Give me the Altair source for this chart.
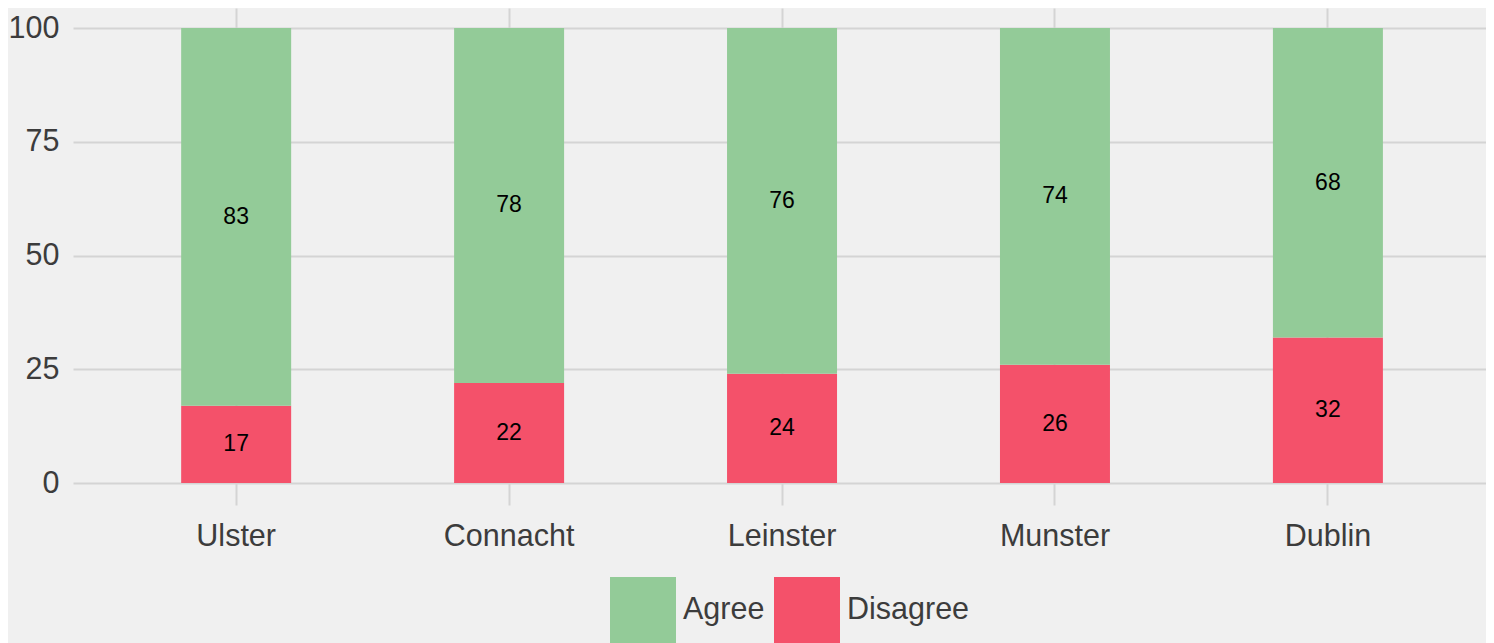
import altair as alt
import pandas as pd

regions = ["Ulster", "Connacht", "Leinster", "Munster", "Dublin"]
agree = [83, 78, 76, 74, 68]
disagree = [17, 22, 24, 26, 32]
series = ["Agree", "Disagree"]
colors = ["#93CB98", "#F4516A"]
y_ticks = [0, 25, 50, 75, 100]

rows = []
for r, a, d in zip(regions, agree, disagree):
    rows.append({"region": r, "answer": "Disagree", "value": d, "ord": 0})
    rows.append({"region": r, "answer": "Agree", "value": a, "ord": 1})
df = pd.DataFrame(rows)

FONT = "Liberation Sans"
FS = 30.5

base = alt.Chart(df).transform_stack(
    stack="value", groupby=["region"], as_=["y0", "y1"],
    sort=[alt.SortField("ord", order="ascending")]
).transform_calculate(mid="(datum.y0 + datum.y1) / 2")

x_scale = alt.Scale(paddingInner=0.597, paddingOuter=0.387, align=0.512)

x_enc = alt.X(
    "region:N", sort=regions, title=None, scale=x_scale,
    axis=alt.Axis(
        labelAngle=0, labelFontSize=FS, labelColor="#3C3C3C", labelFont=FONT,
        domain=False, ticks=True, tickSize=22, tickWidth=2, tickColor="#D4D4D4",
        grid=True, gridColor="#D4D4D4", gridWidth=2, labelPadding=16,
    ),
)

y_scale = alt.Scale(domain=[0, 104.4], nice=False)

bars = base.mark_bar().encode(
    x=x_enc,
    y=alt.Y(
        "y0:Q", scale=y_scale, title=None,
        axis=alt.Axis(
            values=y_ticks, labelFontSize=FS, labelColor="#3C3C3C", labelFont=FONT,
            domain=False, ticks=False, grid=True, gridColor="#D4D4D4", gridWidth=2,
            labelPadding=14,
        ),
    ),
    y2="y1:Q",
    color=alt.Color(
        "answer:N",
        scale=alt.Scale(domain=series, range=colors),
        legend=alt.Legend(
            title=None, orient="none", legendX=537, legendY=569,
            direction="horizontal",
            symbolType="square", symbolSize=4356, symbolStrokeWidth=0,
            labelFontSize=FS, labelColor="#3C3C3C", labelFont=FONT,
            symbolOpacity=1, columnPadding=9, labelOffset=7,
        ),
    ),
)

labels = base.mark_text(fontSize=23, font=FONT, color="#000000").encode(
    x=alt.X("region:N", sort=regions, scale=x_scale),
    y=alt.Y("mid:Q", scale=y_scale),
    text=alt.Text("value:Q"),
)

chart = alt.layer(bars, labels).properties(
    width=1413, height=475, background="#F0F0F0",
    padding={"left": 0, "top": 0, "right": 0, "bottom": 0},
).configure_view(stroke=None)

chart.save("out.html", embed_options={"renderer": "svg", "actions": False})
